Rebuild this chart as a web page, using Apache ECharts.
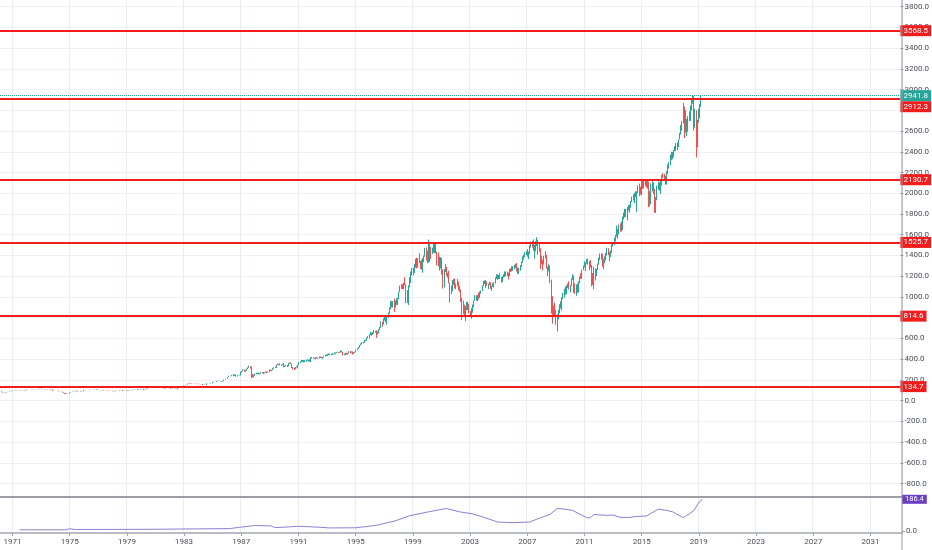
<!DOCTYPE html>
<html>
<head>
<meta charset="utf-8">
<title>SPX monthly</title>
<script src="https://cdn.jsdelivr.net/npm/echarts@6/dist/echarts.min.js"></script>
<style>
  html, body { margin: 0; padding: 0; background: #fff; }
  #chart { width: 932px; height: 550px; }
</style>
</head>
<body>
<div id="chart"></div>
<script>
// x axis: one category per month, first one is 1970-03
var firstMonth = [1970, 3];
var monthCount = 757;

// month-end closes, starting 1970-02 (its close is the open of the first candle)
var closes = [
  89.50, 89.63, 81.52, 76.55, 72.72, 78.05, 81.52, 84.21, 83.25, 87.20, 92.15,
  95.88, 96.75, 100.31, 103.95, 99.63, 98.70, 95.58, 99.03, 98.34, 94.23, 93.99, 102.09,
  103.94, 106.57, 107.20, 107.67, 109.53, 107.14, 107.39, 111.09, 110.55, 111.58, 116.67, 118.05,
  116.03, 111.68, 111.52, 106.97, 104.95, 104.26, 108.22, 104.25, 108.43, 108.29, 95.96, 97.55,
  96.57, 96.22, 93.98, 90.31, 87.28, 86.00, 79.31, 72.15, 63.54, 73.90, 69.97, 68.56,
  76.98, 81.59, 83.36, 87.30, 91.15, 95.19, 88.75, 86.88, 83.87, 89.04, 91.24, 90.19,
  100.86, 99.71, 102.77, 101.64, 100.18, 104.28, 103.44, 102.91, 105.24, 102.90, 102.10, 107.46,
  102.03, 99.82, 98.42, 98.44, 96.12, 100.48, 98.85, 96.77, 96.53, 92.34, 94.83, 95.10,
  89.25, 87.04, 89.21, 96.83, 97.24, 95.53, 100.68, 103.29, 102.54, 93.15, 94.70, 96.11,
  99.93, 96.28, 101.59, 101.76, 99.08, 102.91, 103.81, 109.32, 109.32, 101.82, 106.16, 107.94,
  114.16, 113.66, 102.09, 106.29, 111.24, 114.24, 121.67, 122.38, 125.46, 127.47, 140.52, 135.76,
  129.55, 131.27, 136.00, 132.81, 132.59, 131.21, 130.92, 122.79, 116.18, 121.89, 126.35, 122.55,
  120.40, 113.11, 111.96, 116.44, 111.88, 109.61, 107.09, 119.51, 120.42, 133.71, 138.54, 140.64,
  145.30, 148.06, 152.96, 164.42, 162.39, 168.11, 162.56, 164.40, 166.07, 163.55, 166.40, 164.93,
  163.41, 157.06, 159.18, 160.05, 150.55, 153.18, 150.66, 166.68, 166.10, 166.09, 163.58, 167.24,
  179.63, 181.18, 180.66, 179.83, 189.55, 191.85, 190.92, 188.63, 182.08, 189.82, 202.17, 211.28,
  211.78, 226.92, 238.90, 235.52, 247.35, 250.84, 236.12, 252.93, 231.32, 243.98, 249.22, 242.17,
  274.08, 284.20, 291.70, 288.36, 290.10, 304.00, 318.66, 329.80, 321.83, 251.79, 230.30, 247.08,
  257.07, 267.82, 258.89, 261.33, 262.16, 273.50, 272.02, 261.52, 271.91, 278.97, 273.70, 277.72,
  297.47, 288.86, 294.87, 309.64, 320.52, 317.98, 346.08, 351.45, 349.15, 340.36, 345.99, 353.40,
  329.08, 331.89, 339.94, 330.80, 361.23, 358.02, 356.15, 322.56, 306.05, 304.00, 322.22, 330.22,
  343.93, 367.07, 375.22, 375.35, 389.83, 371.16, 387.81, 395.43, 387.86, 392.46, 375.22, 417.09,
  408.79, 412.70, 403.69, 414.95, 415.35, 408.14, 424.21, 414.03, 417.80, 418.68, 431.35, 435.71,
  438.78, 443.38, 451.67, 440.19, 450.19, 450.53, 448.13, 463.56, 458.93, 467.83, 461.79, 466.45,
  481.61, 467.14, 445.77, 450.91, 456.50, 444.27, 458.26, 475.49, 462.69, 472.35, 453.69, 459.27,
  470.42, 487.39, 500.71, 514.71, 533.40, 544.75, 562.06, 561.88, 584.41, 581.50, 605.37, 615.93,
  636.02, 640.43, 645.50, 654.17, 669.12, 670.63, 639.95, 651.99, 687.33, 705.27, 757.02, 740.74,
  786.16, 790.82, 757.12, 801.34, 848.28, 885.14, 954.29, 899.47, 947.28, 914.62, 955.40, 970.43,
  980.28, 1049.34, 1101.75, 1111.75, 1090.82, 1133.84, 1120.67, 957.28, 1017.01, 1098.67, 1163.63, 1229.23,
  1279.64, 1238.33, 1286.37, 1335.18, 1301.84, 1372.71, 1328.72, 1320.41, 1282.71, 1362.93, 1388.91, 1469.25,
  1394.46, 1366.42, 1498.58, 1452.43, 1420.60, 1454.60, 1430.83, 1517.68, 1436.51, 1429.40, 1314.95, 1320.28,
  1366.01, 1239.94, 1160.33, 1249.46, 1255.82, 1224.42, 1211.23, 1133.58, 1040.94, 1059.78, 1139.45, 1148.08,
  1130.20, 1106.73, 1147.39, 1076.92, 1067.14, 989.82, 911.62, 916.07, 815.28, 885.76, 936.31, 879.82,
  855.70, 841.15, 848.18, 916.92, 963.59, 974.50, 990.31, 1008.01, 995.97, 1050.71, 1058.20, 1111.92,
  1131.13, 1144.94, 1126.21, 1107.30, 1120.68, 1140.84, 1101.72, 1104.24, 1114.58, 1130.20, 1173.82, 1211.92,
  1181.27, 1203.60, 1180.59, 1156.85, 1191.50, 1191.33, 1234.18, 1220.33, 1228.81, 1207.01, 1249.48, 1248.29,
  1280.08, 1280.66, 1294.83, 1310.61, 1270.09, 1270.20, 1276.66, 1303.82, 1335.85, 1377.94, 1400.63, 1418.30,
  1438.24, 1406.82, 1420.86, 1482.37, 1530.62, 1503.35, 1455.27, 1473.99, 1526.75, 1549.38, 1481.14, 1468.36,
  1378.55, 1330.63, 1322.70, 1385.59, 1400.38, 1280.00, 1267.38, 1282.83, 1166.36, 968.75, 896.24, 903.25,
  825.88, 735.09, 797.87, 872.81, 919.14, 919.32, 987.48, 1020.62, 1057.08, 1036.19, 1095.63, 1115.10,
  1073.87, 1104.49, 1169.43, 1186.69, 1089.41, 1030.71, 1101.60, 1049.33, 1141.20, 1183.26, 1180.55, 1257.64,
  1286.12, 1327.22, 1325.83, 1363.61, 1345.20, 1320.64, 1292.28, 1218.89, 1131.42, 1253.30, 1246.96, 1257.60,
  1312.41, 1365.68, 1408.47, 1397.91, 1310.33, 1362.16, 1379.32, 1406.58, 1440.67, 1412.16, 1416.18, 1426.19,
  1498.11, 1514.68, 1569.19, 1597.57, 1630.74, 1606.28, 1685.73, 1632.97, 1681.55, 1756.54, 1805.81, 1848.36,
  1782.59, 1859.45, 1872.34, 1883.95, 1923.57, 1960.23, 1930.67, 2003.37, 1972.29, 2018.05, 2067.56, 2058.90,
  1994.99, 2104.50, 2067.89, 2085.51, 2107.39, 2063.11, 2103.84, 1972.18, 1920.03, 2079.36, 2080.41, 2043.94,
  1940.24, 1932.23, 2059.74, 2065.30, 2096.95, 2098.86, 2173.60, 2170.95, 2168.27, 2126.15, 2198.81, 2238.83,
  2278.87, 2363.64, 2362.72, 2384.20, 2411.80, 2423.41, 2470.30, 2471.65, 2519.36, 2575.26, 2647.58, 2673.61,
  2823.81, 2713.83, 2640.87, 2648.05, 2705.27, 2718.37, 2816.29, 2901.52, 2913.98, 2711.74, 2760.17, 2506.85,
  2704.10, 2784.49, 2834.40, 2941.8
];

// monthly highs / lows from 1987-01 on (earlier wicks are below one pixel)
var wickStart = '1987-01';
var highs = [
  280, 286, 301, 301, 296, 309, 320, 337, 331, 328, 256, 251,
  262, 268, 271, 268, 263, 275, 275, 274, 272, 284, 279, 279,
  298, 300, 296, 311, 322, 327, 347, 354, 354, 360, 348, 354,
  360, 337, 344, 345, 363, 368, 369, 356, 325, 316, 324, 331,
  344, 372, 378, 392, 391, 392, 391, 396, 396, 395, 398, 418,
  421, 418, 413, 417, 421, 416, 425, 425, 422, 421, 431, 441,
  443, 451, 456, 452, 454, 455, 451, 464, 464, 471, 469, 471,
  483, 483, 469, 453, 461, 461, 461, 477, 477, 475, 474, 466,
  471, 491, 505, 515, 535, 551, 563, 565, 586, 589, 608, 622,
  637, 665, 656, 661, 680, 673, 677, 668, 690, 710, 762, 761,
  794, 817, 815, 805, 849, 898, 958, 961, 960, 983, 963, 986,
  992, 1050, 1109, 1124, 1122, 1139, 1190, 1123, 1067, 1112, 1193, 1245,
  1280, 1283, 1317, 1368, 1378, 1375, 1421, 1347, 1361, 1373, 1400, 1473,
  1478, 1445, 1553, 1529, 1482, 1475, 1518, 1525, 1530, 1436, 1431, 1389,
  1383, 1377, 1268, 1269, 1316, 1290, 1233, 1253, 1135, 1111, 1163, 1173,
  1177, 1130, 1172, 1147, 1107, 1071, 990, 965, 925, 910, 951, 955,
  935, 864, 895, 926, 966, 1016, 1016, 1019, 1040, 1054, 1063, 1112,
  1155, 1158, 1164, 1150, 1128, 1146, 1140, 1110, 1132, 1142, 1188, 1218,
  1217, 1212, 1229, 1192, 1201, 1220, 1246, 1246, 1243, 1233, 1270, 1275,
  1295, 1297, 1310, 1319, 1327, 1284, 1280, 1307, 1340, 1390, 1407, 1432,
  1441, 1462, 1438, 1499, 1535, 1541, 1556, 1503, 1539, 1576, 1545, 1524,
  1471, 1396, 1359, 1397, 1441, 1405, 1292, 1314, 1304, 1167, 1007, 919,
  944, 876, 833, 877, 930, 957, 997, 1040, 1080, 1101, 1111, 1130,
  1150, 1112, 1180, 1219, 1206, 1131, 1120, 1129, 1150, 1196, 1228, 1263,
  1303, 1344, 1332, 1365, 1371, 1329, 1357, 1307, 1230, 1292, 1278, 1269,
  1322, 1378, 1419, 1422, 1415, 1364, 1392, 1426, 1475, 1470, 1434, 1448,
  1509, 1530, 1570, 1598, 1687, 1654, 1698, 1710, 1730, 1775, 1814, 1849,
  1851, 1867, 1884, 1891, 1925, 1968, 1991, 2005, 2019, 2019, 2076, 2094,
  2064, 2120, 2117, 2126, 2135, 2130, 2133, 2113, 2021, 2094, 2117, 2105,
  2038, 1963, 2073, 2112, 2104, 2120, 2178, 2194, 2188, 2170, 2214, 2278,
  2301, 2371, 2401, 2399, 2418, 2454, 2484, 2491, 2520, 2582, 2657, 2695,
  2873, 2836, 2801, 2718, 2743, 2791, 2848, 2917, 2941, 2940, 2815, 2800,
  2708, 2813, 2860, 2949
];
var lows = [
  242, 271, 282, 278, 278, 288, 302, 316, 308, 216, 223, 223,
  241, 253, 257, 253, 251, 259, 263, 256, 261, 270, 263, 270,
  275, 286, 285, 292, 306, 315, 316, 343, 343, 339, 335, 343,
  322, 322, 331, 325, 330, 356, 354, 315, 301, 295, 302, 320,
  310, 342, 363, 371, 373, 369, 373, 375, 385, 378, 374, 371,
  405, 406, 401, 398, 409, 402, 406, 412, 410, 402, 417, 427,
  427, 431, 440, 437, 438, 441, 443, 446, 451, 457, 459, 460,
  465, 464, 435, 437, 441, 441, 444, 455, 456, 460, 445, 449,
  458, 469, 486, 499, 510, 532, 544, 552, 556, 575, 580, 601,
  598, 629, 627, 634, 645, 655, 605, 638, 648, 681, 702, 712,
  735, 772, 756, 733, 798, 839, 881, 899, 898, 855, 899, 924,
  922, 979, 1047, 1076, 1074, 1074, 1114, 940, 939, 923, 1093, 1133,
  1205, 1208, 1232, 1282, 1276, 1281, 1328, 1269, 1264, 1234, 1336, 1387,
  1351, 1325, 1331, 1339, 1364, 1415, 1427, 1422, 1419, 1305, 1294, 1255,
  1274, 1215, 1081, 1091, 1240, 1204, 1185, 1130, 945, 1026, 1055, 1117,
  1081, 1074, 1104, 1064, 1048, 952, 775, 834, 815, 768, 872, 872,
  840, 807, 789, 847, 901, 964, 962, 961, 974, 991, 1031, 1058,
  1104, 1124, 1087, 1107, 1076, 1115, 1077, 1060, 1098, 1090, 1128, 1174,
  1164, 1173, 1172, 1137, 1146, 1188, 1191, 1201, 1201, 1168, 1200, 1243,
  1245, 1253, 1268, 1280, 1245, 1219, 1224, 1254, 1290, 1327, 1360, 1385,
  1403, 1389, 1364, 1416, 1476, 1477, 1447, 1371, 1439, 1490, 1407, 1435,
  1270, 1316, 1256, 1312, 1371, 1272, 1200, 1247, 1133, 840, 742, 815,
  805, 731, 667, 783, 840, 888, 869, 978, 993, 1020, 1026, 1085,
  1071, 1045, 1106, 1165, 1040, 1029, 1011, 1040, 1043, 1132, 1174, 1174,
  1258, 1285, 1249, 1321, 1311, 1258, 1282, 1101, 1114, 1075, 1159, 1202,
  1259, 1310, 1355, 1358, 1292, 1267, 1325, 1355, 1397, 1403, 1343, 1385,
  1426, 1486, 1501, 1536, 1581, 1560, 1604, 1628, 1633, 1646, 1746, 1768,
  1770, 1738, 1834, 1814, 1860, 1915, 1930, 1905, 1964, 1821, 2001, 1972,
  1988, 1980, 2040, 2048, 2068, 2056, 2045, 1867, 1872, 1894, 2019, 1993,
  1812, 1810, 1937, 2034, 2025, 1992, 2075, 2148, 2119, 2083, 2084, 2187,
  2245, 2271, 2322, 2328, 2352, 2405, 2407, 2417, 2446, 2520, 2566, 2605,
  2683, 2533, 2585, 2553, 2594, 2698, 2698, 2796, 2864, 2604, 2631, 2346,
  2444, 2681, 2723, 2848
];

// horizontal levels drawn on the chart
var levels = [3568.5, 2912.3, 2130.7, 1525.7, 814.6, 134.7];
var lastPrice = 2941.8;

// lower pane indicator
var indicator = [
  ['1971-07', 7], ['1974-09', 7], ['1975-01', 13], ['1975-06', 9], ['1980-06', 10],
  ['1986-03', 14], ['1986-12', 22], ['1987-12', 32], ['1989-02', 30], ['1989-05', 20],
  ['1990-05', 24], ['1991-01', 28], ['1992-07', 22], ['1993-03', 18], ['1995-01', 19],
  ['1996-06', 33], ['1997-10', 59], ['1998-10', 89], ['2000-03', 114], ['2001-05', 132],
  ['2001-09', 126], ['2002-04', 113], ['2003-03', 101], ['2003-12', 82], ['2004-12', 53],
  ['2006-01', 49], ['2007-03', 53], ['2007-12', 78], ['2008-08', 97], ['2009-02', 132],
  ['2009-07', 130], ['2010-03', 121], ['2011-03', 78], ['2011-06', 78], ['2011-09', 97],
  ['2012-08', 92], ['2013-01', 94], ['2013-07', 80], ['2014-03', 80], ['2014-09', 86],
  ['2015-05', 88], ['2016-03', 129], ['2016-10', 121], ['2017-03', 113], ['2017-12', 78],
  ['2018-05', 101], ['2018-09', 121], ['2019-01', 169], ['2019-04', 186.4]
];
var indicatorLast = 186.4;

var font = 'Roboto, "Liberation Sans", sans-serif';
var upColor = '#26a69a', downColor = '#ef5350', levelColor = '#f21c1c';

var months = [];
for (var i = 0; i < monthCount; i++) {
  var m = firstMonth[1] - 1 + i;
  var y = firstMonth[0] + Math.floor(m / 12);
  var mm = m % 12 + 1;
  months.push(y + '-' + (mm < 10 ? '0' + mm : mm));
}

var wickOffset = months.indexOf(wickStart);
var candles = [];
for (var i = 1; i < closes.length; i++) {
  var o = closes[i - 1], c = closes[i];
  var k = i - 1 - wickOffset;
  var hi = Math.max(o, c), lo = Math.min(o, c);
  if (k >= 0) {
    hi = Math.max(hi, highs[k]);
    lo = Math.min(lo, lows[k]);
  }
  candles.push([o, c, lo, hi]);
}

function yearTick(idx, val) {
  return val.slice(5) === '01' && (+val.slice(0, 4) - 1971) % 4 === 0;
}

var levelLines = levels.map(function (v) {
  return {
    yAxis: v,
    lineStyle: { color: levelColor, width: 2, type: 'solid' },
    label: {
      backgroundColor: levelColor,
      offset: Math.abs(v - lastPrice) < 60 ? [0, 8] : [0, 0]
    }
  };
});
levelLines.push({
  yAxis: lastPrice,
  lineStyle: { color: upColor, width: 1, type: 'dotted' },
  label: { backgroundColor: upColor }
});

var chart = echarts.init(document.getElementById('chart'));
chart.setOption({
  animation: false,
  backgroundColor: '#fff',
  textStyle: { fontFamily: font },
  grid: [
    { left: 0, right: 30, top: 0, bottom: 17 },
    { left: 0, right: 30, top: 6.7, bottom: 66.5 },
    { left: 0, right: 30, top: 497, bottom: 19 }
  ],
  xAxis: [
    {
      type: 'category', gridIndex: 0, data: months, boundaryGap: true,
      axisLine: { show: true, onZero: false, lineStyle: { color: '#a3a6af', width: 1.5 } },
      axisTick: { show: true, interval: yearTick, alignWithLabel: true, length: 3, lineStyle: { color: '#a3a6af' } },
      axisLabel: {
        interval: yearTick, formatter: function (v) { return v.slice(0, 4); },
        color: '#4a4e59', fontSize: 8, margin: 5, fontFamily: font
      },
      splitLine: { show: true, interval: yearTick, lineStyle: { color: '#e9ecf2', width: 1 } }
    },
    { type: 'category', gridIndex: 1, data: months, boundaryGap: true, show: false },
    {
      type: 'category', gridIndex: 2, data: months, boundaryGap: true, position: 'top',
      axisLine: { show: true, onZero: false, lineStyle: { color: '#7d808a', width: 1.5 } },
      axisTick: { show: false }, axisLabel: { show: false }, splitLine: { show: false }
    }
  ],
  yAxis: [
    { type: 'value', gridIndex: 0, min: 0, max: 1, show: false },
    {
      type: 'value', gridIndex: 1, position: 'right', min: -800, max: 3800, interval: 200,
      axisLine: { show: false },
      axisTick: { show: true, length: 3, lineStyle: { color: '#9598a1' } },
      axisLabel: {
        color: '#4a4e59', fontSize: 8, margin: 4, fontFamily: font,
        formatter: function (v) { return v.toFixed(1); }
      },
      splitLine: { show: true, lineStyle: { color: '#eef0f4', width: 1 } }
    },
    {
      type: 'value', gridIndex: 2, position: 'right', min: 0, max: 200, interval: 200,
      axisLine: { show: false },
      axisTick: { show: true, length: 3, lineStyle: { color: '#9598a1' } },
      axisLabel: {
        color: '#4a4e59', fontSize: 8, margin: 4, fontFamily: font, showMaxLabel: false,
        formatter: function (v) { return v.toFixed(1); }
      },
      splitLine: { show: false }
    }
  ],
  series: [
    {
      type: 'candlestick', xAxisIndex: 1, yAxisIndex: 1,
      data: candles,
      itemStyle: { color: upColor, color0: downColor, borderColor: upColor, borderColor0: downColor, borderWidth: 1 },
      markLine: {
        silent: true, symbol: 'none', animation: false,
        label: {
          show: true, position: 'end', distance: 0, color: '#fff', fontSize: 8, fontFamily: font,
          padding: [2, 3, 1, 3],
          formatter: function (p) { return p.value.toFixed(1); }
        },
        data: levelLines
      }
    },
    {
      type: 'line', xAxisIndex: 2, yAxisIndex: 2, data: indicator,
      showSymbol: false, symbol: 'none',
      lineStyle: { color: '#8c7ed4', width: 1 },
      markLine: {
        silent: true, symbol: 'none', animation: false,
        lineStyle: { color: 'rgba(0,0,0,0)', width: 0 },
        label: {
          show: true, position: 'end', distance: 0, color: '#fff', fontSize: 7.5, fontFamily: font,
          padding: [1, 3, 0, 3], backgroundColor: '#6a3fc2',
          formatter: function (p) { return p.value.toFixed(1); }
        },
        data: [{ yAxis: indicatorLast }]
      }
    }
  ],
  graphic: [
    {
      type: 'line', silent: true, z: 10,
      shape: { x1: 902, y1: 0, x2: 902, y2: 550 },
      style: { stroke: '#9598a1', lineWidth: 1 }
    }
  ]
});
</script>
</body>
</html>
